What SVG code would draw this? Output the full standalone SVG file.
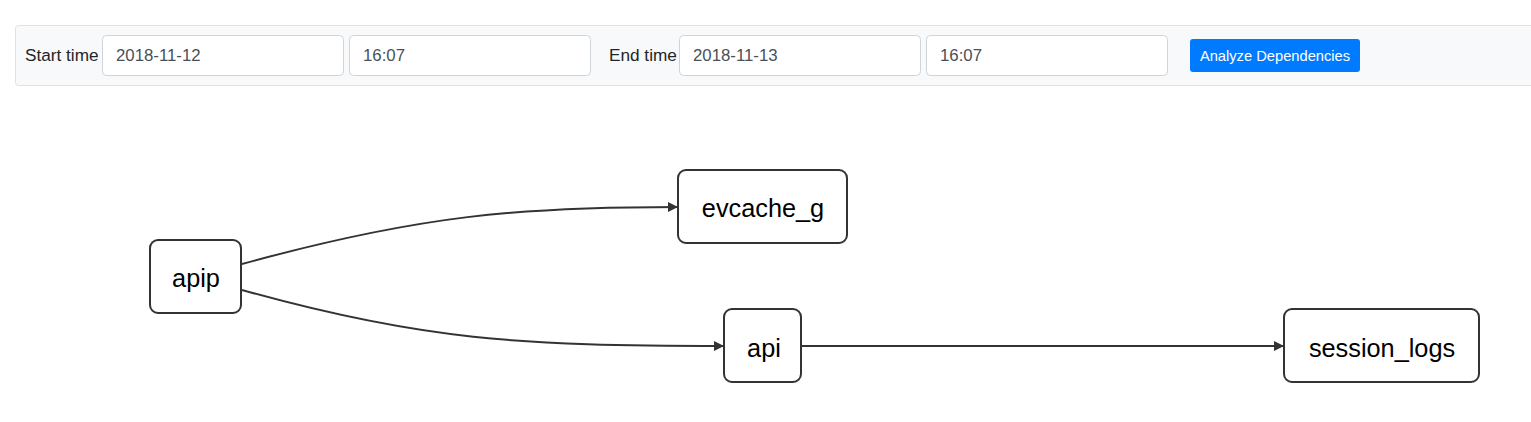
<svg xmlns="http://www.w3.org/2000/svg" width="1531" height="422" viewBox="0 0 1531 422">
<style>
.lbl{font-family:"Liberation Sans",Arial,sans-serif;font-size:17.2px;fill:#212529}
.inp{fill:#fff;stroke:#ced4da;stroke-width:1}
.val{font-family:"Liberation Sans",Arial,sans-serif;font-size:16.8px;fill:#495057}
.node rect{fill:#fff;stroke:#333;stroke-width:2}
.node text{font-family:"Liberation Sans",Arial,sans-serif;font-size:25.3px;fill:#000;text-anchor:middle}
.edge{fill:none;stroke:#333;stroke-width:2}
</style>
<defs>
<marker id="arr" viewBox="0 0 10 10" refX="10" refY="5" markerWidth="5" markerHeight="5" orient="auto" markerUnits="strokeWidth">
<path d="M0,0 L10,5 L0,10 z" fill="#333"/>
</marker>
</defs>
<rect width="1531" height="422" fill="#fff"/>
<g id="toolbar">
<rect x="15.5" y="25.5" width="1530" height="60" rx="3" fill="#f8f9fa" stroke="#dfe1e3"/>
<text class="lbl" x="25" y="61">Start time</text>
<rect class="inp" x="102.5" y="35.5" width="241" height="40" rx="4"/>
<text class="val" x="116" y="61">2018-11-12</text>
<rect class="inp" x="349.5" y="35.5" width="241" height="40" rx="4"/>
<text class="val" x="363" y="61">16:07</text>
<text class="lbl" x="609" y="61">End time</text>
<rect class="inp" x="679.5" y="35.5" width="241" height="40" rx="4"/>
<text class="val" x="693" y="61">2018-11-13</text>
<rect class="inp" x="926.5" y="35.5" width="241" height="40" rx="4"/>
<text class="val" x="940" y="61">16:07</text>
<rect x="1190" y="39" width="170" height="33" rx="3" fill="#007bff"/>
<text x="1275" y="60.5" font-family="Liberation Sans,Arial,sans-serif" font-size="14.7" fill="#fff" text-anchor="middle">Analyze Dependencies</text>
</g>
<g id="connectors">
<path class="edge" d="M242,264 C420,215 520,207 678,207" marker-end="url(#arr)"/>
<path class="edge" d="M242,290 C420,340 520,346 724,346" marker-end="url(#arr)"/>
<path class="edge" d="M801,346 L1284,346" marker-end="url(#arr)"/>
</g>
<g id="node-apip" class="node">
<rect x="150" y="240" width="91" height="73" rx="8"/>
<text x="196" y="287">apip</text>
</g>
<g id="node-evcache_g" class="node">
<rect x="678" y="170" width="169" height="73" rx="8"/>
<text x="763" y="216.5">evcache_g</text>
</g>
<g id="node-api" class="node">
<rect x="724" y="309" width="77" height="73" rx="8"/>
<text x="764" y="356.5">api</text>
</g>
<g id="node-session_logs" class="node">
<rect x="1284" y="309" width="195" height="73" rx="8"/>
<text x="1382" y="356.5">session_logs</text>
</g>
</svg>
